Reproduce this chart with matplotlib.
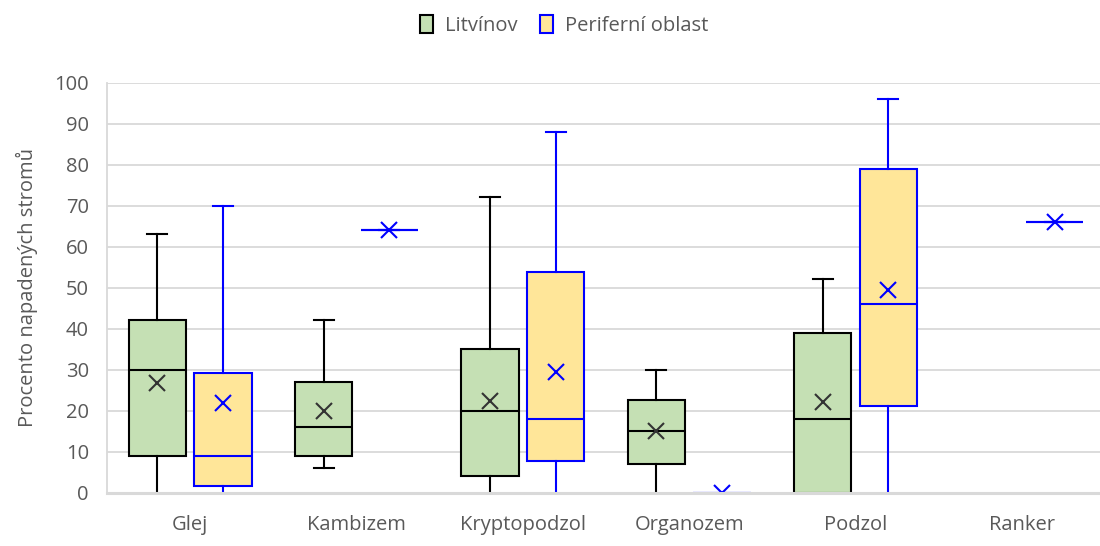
import matplotlib
matplotlib.use("Agg")
import matplotlib.pyplot as plt
from matplotlib.patches import Patch

plt.rcParams['font.family'] = ['Open Sans', 'DejaVu Sans']

categories = ['Glej', 'Kambizem', 'Kryptopodzol', 'Organozem', 'Podzol', 'Ranker']
series_names = ['Litvínov', 'Periferní oblast']

lit_min = [0, 6, 0, 0, 0, None]
lit_q1 = [9, 9, 4, 7, 0, None]
lit_med = [30, 16, 20, 15, 18, None]
lit_q3 = [42, 27, 35, 22.5, 39, None]
lit_max = [63, 42, 72, 30, 52, None]
lit_mean = [26.6, 20, 22.2, 15, 22, None]

per_min = [0, 64, 0, 0, 0, 66]
per_q1 = [1.5, 64, 7.7, 0, 21, 66]
per_med = [9, 64, 18, 0, 46, 66]
per_q3 = [29.2, 64, 53.8, 0, 79, 66]
per_max = [70, 64, 88, 0, 96, 66]
per_mean = [21.8, 64, 29.3, 0, 49.4, 66]

y_ticks = list(range(0, 101, 10))
y_label = 'Procento napadených stromů'

fill_colors = ['#C5E0B4', '#FFE699']
edge_colors = ['#000000', '#0000FF']
mean_colors = ['#333333', '#0000FF']
offsets = [-0.197, 0.197]
box_w = 0.345
FS = 14.5

fig = plt.figure(figsize=(11, 5.46), dpi=100)
ax = fig.add_axes([107 / 1100, 1 - 492.5 / 546, 998 / 1100, 410 / 546])

series = [
    (lit_min, lit_q1, lit_med, lit_q3, lit_max, lit_mean),
    (per_min, per_q1, per_med, per_q3, per_max, per_mean),
]

ymin, ymax = 0, 100
for s, (mn, q1, med, q3, mx, mean) in enumerate(series):
    stats, pos = [], []
    for i in range(len(categories)):
        if med[i] is None:
            continue
        stats.append(dict(whislo=mn[i], q1=q1[i], med=med[i], q3=q3[i],
                          whishi=mx[i], mean=mean[i], fliers=[]))
        pos.append(i + offsets[s])
    col = edge_colors[s]
    art = ax.bxp(stats, positions=pos, widths=box_w, patch_artist=True,
                 showmeans=True, meanline=False, showfliers=False,
                 boxprops=dict(facecolor=fill_colors[s], edgecolor=col, linewidth=1.5),
                 medianprops=dict(color=col, linewidth=1.5),
                 whiskerprops=dict(color=col, linewidth=1.5),
                 capprops=dict(color=col, linewidth=1.5),
                 meanprops=dict(marker='x', markeredgecolor=mean_colors[s],
                                markersize=11, markeredgewidth=1.5),
                 capwidths=0.12, zorder=3)
    # caps lying on the axis minimum are covered by the category axis
    for k, st in enumerate(stats):
        if st['whislo'] <= ymin:
            art['caps'][2 * k].set_visible(False)
        if st['whishi'] <= ymin:
            art['caps'][2 * k + 1].set_visible(False)

ax.set_xlim(-0.5, len(categories) - 0.5)
ax.set_ylim(ymin, ymax)
ax.set_yticks(y_ticks)
ax.set_xticks(range(len(categories)))
ax.set_xticklabels(categories)
ax.tick_params(axis='both', length=0, labelsize=FS, colors='#595959')
ax.tick_params(axis='y', pad=13)
ax.tick_params(axis='x', pad=16)
ax.grid(axis='y', color='#D9D9D9', linewidth=1.3, zorder=0)
ax.set_axisbelow(True)
for sp in ['top', 'right']:
    ax.spines[sp].set_visible(False)
for sp in ['left', 'bottom']:
    ax.spines[sp].set_color('#D9D9D9')
    ax.spines[sp].set_linewidth(1.3)
ax.spines['bottom'].set_linewidth(2.2)
ax.spines['bottom'].set_zorder(5)
ax.set_ylabel(y_label, fontsize=FS, color='#595959', labelpad=12)

handles = [Patch(facecolor=fill_colors[k], edgecolor=edge_colors[k], linewidth=1.5,
                 label=series_names[k]) for k in range(2)]
fig.legend(handles=handles, loc='center', bbox_to_anchor=(0.513, 0.953), ncol=2,
           frameon=False, fontsize=FS, handlelength=0.65, handleheight=1.0,
           handletextpad=0.6, columnspacing=1.1, labelcolor='#595959')

fig.savefig('out.png', dpi=100)
